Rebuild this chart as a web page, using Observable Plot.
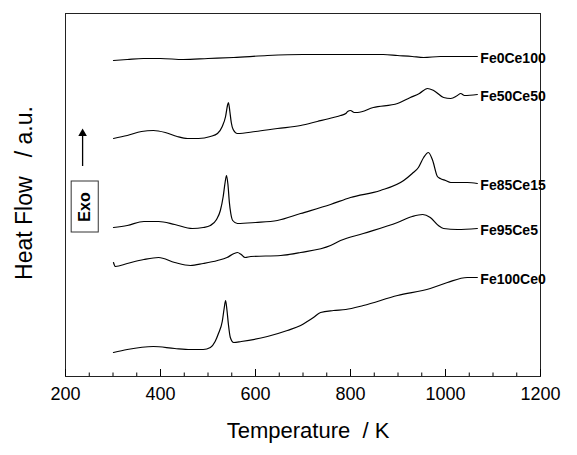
<!DOCTYPE html>
<html><head><meta charset="utf-8">
<script src="https://cdn.jsdelivr.net/npm/d3@7"></script>
<script src="https://cdn.jsdelivr.net/npm/@observablehq/plot@0.6"></script>
<style>body{margin:0;background:#fff;} svg{display:block;}</style>
</head><body><div id="chart"></div>
<script>
// Temperature (K) and heat flow (a.u., offset per sample)
const seriesNames = ["Fe0Ce100", "Fe50Ce50", "Fe85Ce15", "Fe95Ce5", "Fe100Ce0"];
const fe0ce100 = [[301,316],[330,317],[364,318],[400,318],[448,317],[500,318],[554,319],[625,321],[700,322],[758,322],[810,322],[869,322],[899,321],[930,320],[954,319],[989,320],[1030,320],[1067,320]];
const fe50ce50 = [[301,238],[330,241],[360,245],[385,246],[410,244],[435,240],[457,238],[480,238],[505,240],[520,243],[530,250],[537,260],[541,271],[543,274],[546,265],[549,254],[553,247],[562,243],[600,245],[646,248],[695,251],[730,255],[764,259],[779,261],[790,263],[794,265],[800,266],[808,264],[815,264],[848,269],[899,273],[926,279],[945,283],[962,288],[975,286],[996,279],[1011,278],[1025,281],[1032,283],[1040,281],[1067,282]];
const fe85ce15 = [[301,149],[330,151],[365,155],[396,155],[430,152],[467,148],[490,149],[505,151],[518,157],[526,166],[532,180],[536,194],[539,201],[542,192],[545,174],[548,163],[552,156],[562,153],[600,154],[646,156],[695,163],[758,172],[800,179],[863,186],[912,196],[930,203],[943,209],[954,219],[964,224],[973,216],[983,200],[989,198],[1000,196],[1011,194],[1046,194],[1067,193]];
const fe95ce5 = [[301,114],[305,110],[330,113],[365,117],[396,119],[430,114],[463,111],[490,113],[520,116],[540,119],[555,123],[562,124],[570,122],[578,119],[590,120],[653,121],[695,124],[758,131],[779,136],[827,143],[899,154],[930,160],[952,162],[968,159],[985,151],[996,148],[1025,147],[1067,148]];
const fe100ce0 = [[301,24],[330,27],[385,30],[430,28],[463,27],[490,27],[505,29],[515,35],[522,43],[530,55],[534,68],[537,76],[540,66],[543,52],[547,39],[554,34],[570,35],[625,40],[667,46],[695,51],[709,55],[722,59],[737,64],[764,66],[790,67],[827,71],[899,81],[968,88],[1004,94],[1046,99],[1067,99]];
const majorTicks = [200, 400, 600, 800, 1000, 1200];
const minorTicks = [250, 300, 350, 450, 500, 550, 650, 700, 750, 850, 900, 950, 1050, 1100, 1150];
const xTitle = "Temperature\u00a0\u00a0/ K";
const yTitle = "Heat Flow\u00a0\u00a0\u00a0/ a.u.";
const exoText = "Exo";

const allSeries = [fe0ce100, fe50ce50, fe85ce15, fe95ce5, fe100ce0];
const rows = allSeries.flatMap((pts, i) => pts.map(([t, v]) => ({name: seriesNames[i], t, v})));

const chart = Plot.plot({
  width: 577, height: 455,
  marginLeft: 65, marginRight: 37, marginTop: 13, marginBottom: 79,
  x: {domain: [200, 1200]},
  y: {domain: [0, 363], axis: null},
  style: {fontFamily: "'Liberation Sans', Arial, sans-serif", color: "#000", background: "#fff"},
  marks: [
    Plot.frame({stroke: "#222"}),
    Plot.ruleX(majorTicks, {y1: 0, y2: 7, stroke: "#000"}),
    Plot.ruleX(minorTicks, {y1: 0, y2: 3.5, stroke: "#000"}),
    Plot.axisX({ticks: majorTicks, tickFormat: d => `${d}`, tickSize: 0, tickPadding: 11, fontSize: 18, label: null}),
    Plot.line(rows, {x: "t", y: "v", z: "name", stroke: "#000", strokeWidth: 1.2, curve: "monotone-x"}),
    Plot.text(rows, Plot.selectLast({x: "t", y: "v", z: "name", text: "name", textAnchor: "start", dx: 3, dy: 2, fontWeight: "bold", fontSize: 14})),
    Plot.text([xTitle], {frameAnchor: "bottom", dx: 5, dy: 61, fontSize: 22}),
    Plot.text([yTitle], {frameAnchor: "left", textAnchor: "middle", dx: -41, dy: -2, rotate: -90, fontSize: 23}),
    Plot.rect([exoText], {x1: 213, x2: 270, y1: 144, y2: 195, fill: "none", stroke: "#333"}),
    Plot.text([exoText], {x: 241, y: 169.5, rotate: -90, fontWeight: "bold", fontSize: 16}),
    Plot.ruleX([236], {y1: 210, y2: 240, stroke: "#000", strokeWidth: 1.3}),
    Plot.dot([236], {x: d => d, y: 243, symbol: "triangle", r: 3.2, fill: "#000", stroke: "none"})
  ]
});
document.getElementById("chart").append(chart);
</script>
</body></html>
